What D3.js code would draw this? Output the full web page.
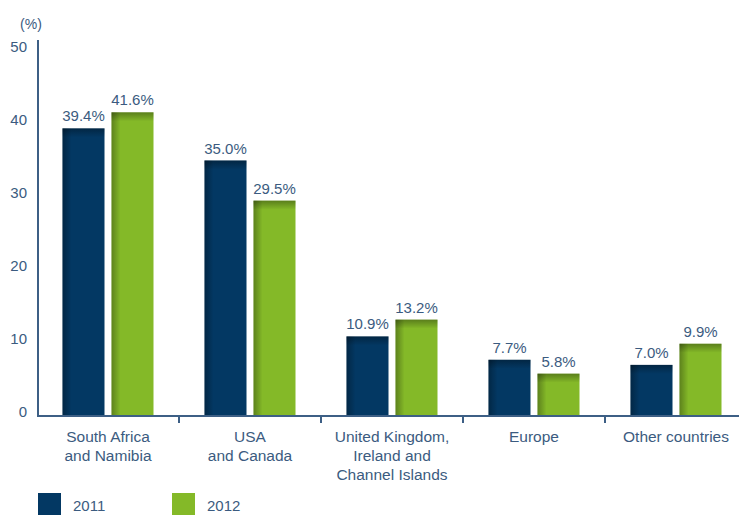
<!DOCTYPE html>
<html>
<head>
<meta charset="utf-8">
<script src="https://cdn.jsdelivr.net/npm/d3@7"></script>
<style>
  html, body { margin: 0; padding: 0; background: #fff; }
  svg { display: block; font-family: "Liberation Sans", Arial, sans-serif; }
  text { fill: #3b5b80; }
</style>
</head>
<body>
<script>
const categories = [
  ["South Africa", "and Namibia"],
  ["USA", "and Canada"],
  ["United Kingdom,", "Ireland and", "Channel Islands"],
  ["Europe"],
  ["Other countries"]
];
const years = ["2011", "2012"];
const values2011 = [39.4, 35.0, 10.9, 7.7, 7.0];
const values2012 = [41.6, 29.5, 13.2, 5.8, 9.9];
const yTicks = [0, 10, 20, 30, 40, 50];

const width = 739,
  height = 515,
  axisX = 38,
  baseY = 416;

const colors = { "2011": "#033863", "2012": "#84b928" };
const axisColor = "#3d5f85";

const svg = d3
  .select("body")
  .append("svg")
  .attr("width", width)
  .attr("height", height);

// gradients for the shaded top and left edge of each bar
const defs = svg.append("defs");
const topShade = defs.append("linearGradient")
  .attr("id", "topShade").attr("x1", 0).attr("y1", 0).attr("x2", 0).attr("y2", 1);
topShade.append("stop").attr("offset", 0).attr("stop-color", "#000").attr("stop-opacity", 0.32);
topShade.append("stop").attr("offset", 1).attr("stop-color", "#000").attr("stop-opacity", 0);
const leftShade = defs.append("linearGradient")
  .attr("id", "leftShade").attr("x1", 0).attr("y1", 0).attr("x2", 1).attr("y2", 0);
leftShade.append("stop").attr("offset", 0).attr("stop-color", "#000").attr("stop-opacity", 0.3);
leftShade.append("stop").attr("offset", 1).attr("stop-color", "#000").attr("stop-opacity", 0);

const keys = categories.map(c => c.join(" "));

const x = d3.scaleBand().domain(keys).range([37, 747]).padding(0);
const xs = d3
  .scaleBand()
  .domain(years)
  .range([(x.bandwidth() - 91) / 2, (x.bandwidth() + 91) / 2])
  .paddingInner(7 / 49);
const y = d3.scaleLinear().domain([0, 50]).range([baseY, 51]);

const rows = keys.map((k, i) => ({
  key: k,
  lines: categories[i],
  vals: [
    { year: "2011", value: values2011[i] },
    { year: "2012", value: values2012[i] }
  ]
}));

// bars
const group = svg
  .selectAll("g.cat")
  .data(rows)
  .enter()
  .append("g")
  .attr("class", "cat")
  .attr("transform", d => `translate(${x(d.key)},0)`);

const bar = group
  .selectAll("g.bar")
  .data(d => d.vals)
  .enter()
  .append("g")
  .attr("class", "bar");

bar.append("rect")
  .attr("x", d => xs(d.year))
  .attr("y", d => y(d.value))
  .attr("width", xs.bandwidth())
  .attr("height", d => baseY - y(d.value))
  .attr("fill", d => colors[d.year]);

bar.append("rect")
  .attr("x", d => xs(d.year))
  .attr("y", d => y(d.value))
  .attr("width", 9)
  .attr("height", d => baseY - y(d.value))
  .attr("fill", "url(#leftShade)");

bar.append("rect")
  .attr("x", d => xs(d.year))
  .attr("y", d => y(d.value))
  .attr("width", xs.bandwidth())
  .attr("height", 9)
  .attr("fill", "url(#topShade)");

bar.append("text")
  .attr("x", d => xs(d.year) + xs.bandwidth() / 2)
  .attr("y", d => y(d.value) - 7)
  .attr("text-anchor", "middle")
  .attr("font-size", 15)
  .text(d => d.value.toFixed(1) + "%");

// category labels
group.append("text")
  .attr("text-anchor", "middle")
  .attr("font-size", 15.5)
  .selectAll("tspan")
  .data(d => d.lines)
  .enter()
  .append("tspan")
  .attr("x", x.bandwidth() / 2)
  .attr("y", (d, i) => 442 + i * 19)
  .text(d => d);

// y axis
svg.append("line")
  .attr("x1", axisX).attr("x2", axisX)
  .attr("y1", 40).attr("y2", baseY + 1)
  .attr("stroke", axisColor).attr("stroke-width", 2);

svg.selectAll("text.ytick")
  .data(yTicks)
  .enter()
  .append("text")
  .attr("class", "ytick")
  .attr("x", 27)
  .attr("y", d => y(d) + 1)
  .attr("text-anchor", "end")
  .attr("font-size", 15)
  .text(d => d);

svg.append("text")
  .attr("x", 31)
  .attr("y", 29)
  .attr("text-anchor", "middle")
  .attr("font-size", 14)
  .text("(%)");

// x axis with ticks between categories
svg.append("line")
  .attr("x1", axisX - 1).attr("x2", width)
  .attr("y1", baseY).attr("y2", baseY)
  .attr("stroke", axisColor).attr("stroke-width", 2);

svg.selectAll("line.xtick")
  .data(keys.slice(1))
  .enter()
  .append("line")
  .attr("class", "xtick")
  .attr("x1", d => x(d)).attr("x2", d => x(d))
  .attr("y1", baseY).attr("y2", baseY + 7)
  .attr("stroke", axisColor).attr("stroke-width", 2);

// legend
const legend = svg
  .selectAll("g.legend")
  .data(years)
  .enter()
  .append("g")
  .attr("class", "legend")
  .attr("transform", (d, i) => `translate(${38 + i * 134},493)`);

legend.append("rect")
  .attr("width", 23)
  .attr("height", 23)
  .attr("fill", d => colors[d]);

legend.append("text")
  .attr("x", 35)
  .attr("y", 18)
  .attr("font-size", 15)
  .text(d => d);
</script>
</body>
</html>
